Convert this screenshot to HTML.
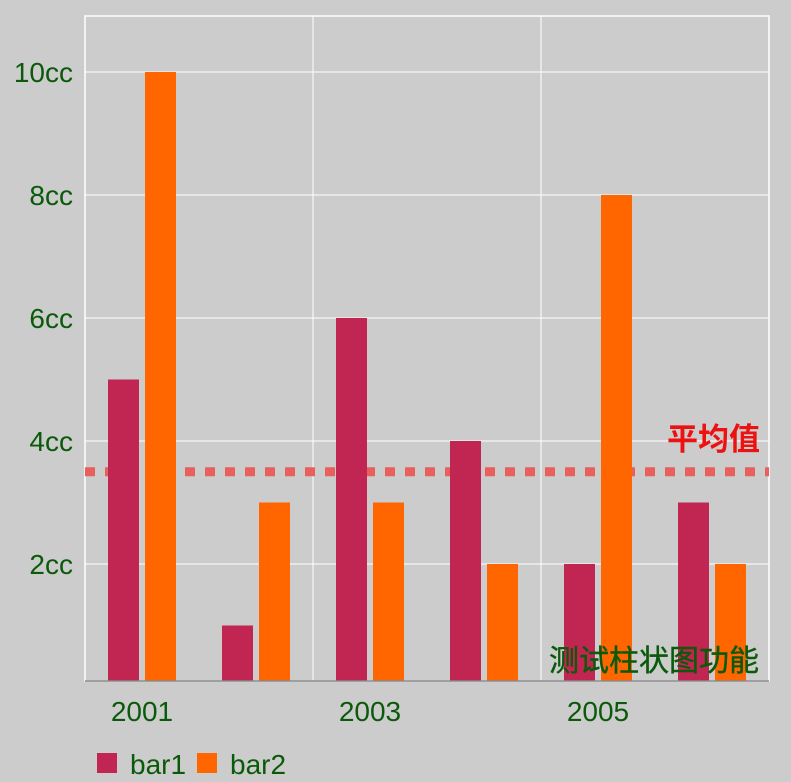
<!DOCTYPE html>
<html><head><meta charset="utf-8"><style>
body{margin:0;background:#cccccc;}
svg{display:block;font-family:"Liberation Sans","Noto Sans CJK SC",sans-serif;}
</style></head><body>
<svg id="c" width="791" height="782">
<rect x="0" y="0" width="791" height="782" fill="#cccccc"/>
<g id="grid"></g>
<g id="avg"></g>
<g id="bars"></g>
<g id="ax"></g>
</svg>
<script>
const categories=["2001","2002","2003","2004","2005","2006"];
const bar1=[5,1,6,4,2,3];
const bar2=[10,3,3,2,8,2];
const yTicks=[2,4,6,8,10];
const yTickLabels=["2cc","4cc","6cc","8cc","10cc"];
const xLabelIdx=[0,2,4];
const avgValue=3.5;
const NS="http://www.w3.org/2000/svg";
const L=85,R=769,T=16,B=681,Y0=687,PU=61.5;
const cw=(R-L)/categories.length;
const y=v=>Y0-v*PU;
const x=i=>L+i*cw;
function mk(p,tag,a,txt){const e=document.createElementNS(NS,tag);for(const k in a)e.setAttribute(k,a[k]);if(txt!=null)e.textContent=txt;document.getElementById(p).appendChild(e);return e;}
let e=mk('grid','rect',{x:L,y:T,width:R-L,height:B-T,fill:'none',stroke:'#ffffff','stroke-width':1.5});

yTicks.forEach((v,i)=>{
 let g=mk('grid','line',{x1:L,x2:R,y1:y(v),y2:y(v),stroke:'#ffffff','stroke-width':1});
 
 let t=mk('ax','text',{x:73,y:y(v)+10,'text-anchor':'end','font-size':28,fill:'#0b5a0b'},yTickLabels[i]);
 
});
xLabelIdx.forEach(i=>{
 if(i>0){let g=mk('grid','line',{x1:x(i),x2:x(i),y1:T,y2:B,stroke:'#ffffff','stroke-width':1});
 }
 let t=mk('ax','text',{x:x(i)+cw/2,y:721,'text-anchor':'middle','font-size':28,fill:'#0b5a0b'},categories[i]);
 
});
e=mk('avg','line',{x1:L,x2:R,y1:y(avgValue),y2:y(avgValue),stroke:'#e8605c','stroke-width':9,'stroke-dasharray':'10 10'});

categories.forEach((c,i)=>{
 let b=mk('bars','rect',{x:x(i)+23,y:y(bar1[i]),width:31,height:B-y(bar1[i]),fill:'#c12552'});
 
 let b2=mk('bars','rect',{x:x(i)+60,y:y(bar2[i]),width:31,height:B-y(bar2[i]),fill:'#ff6600'});
 
});
e=mk('ax','line',{x1:L,x2:R,y1:B,y2:B,stroke:'#888888','stroke-width':1.5});

e=mk('ax','text',{x:760,y:y(avgValue)-22,'text-anchor':'end','font-size':31,'font-weight':'bold',fill:'#ee1111'},'平均值');

e=mk('ax','text',{x:759,y:671,'text-anchor':'end','font-size':30,fill:'#0b5a0b',stroke:'#0b5a0b','stroke-width':0.4},'测试柱状图功能');

e=mk('ax','rect',{x:97,y:753,width:20,height:20,fill:'#c12552'});

e=mk('ax','text',{x:130,y:774,'font-size':28,fill:'#0b5a0b'},'bar1');

e=mk('ax','rect',{x:197,y:753,width:20,height:20,fill:'#ff6600'});

e=mk('ax','text',{x:230,y:774,'font-size':28,fill:'#0b5a0b'},'bar2');

</script>
</body></html>
